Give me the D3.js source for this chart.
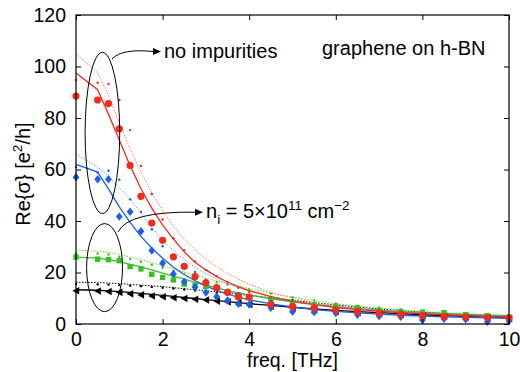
<!DOCTYPE html>
<html>
<head>
<meta charset="UTF-8">
<script src="https://d3js.org/d3.v7.min.js"></script>
<style>
  body { margin: 0; background: #fff; }
  text { font-family: "Liberation Sans", Arial, sans-serif; }
</style>
</head>
<body>
<svg id="chart"></svg>
<script>
// frequency grid (THz) shared by all series
const freq = [0,0.5,0.75,1,1.25,1.5,1.75,2,2.25,2.5,2.75,3,3.25,3.5,3.75,4,4.5,5,5.5,6,6.5,7,7.5,8,8.5,9,9.5,10];

// big markers / small dots / solid fit / dotted fit
const redBig    = [88.5,87,85.6,75.8,61.6,49.6,39.2,32.5,26.1,22.4,18.4,16,14.1,12.3,10.6,10.4,7.6,6.8,6.2,5.4,4.8,4.2,3.7,3.3,2.9,2.7,2.5,2.4];
const redSmall  = [94.8,93.7,93.2,87,75.3,61.4,50.5,40.6,33.3,28.7,24.3,21,18.6,16.2,14.1,12.4,10.5,8.8,7.5,6.5,5.6,4.9,4.3,3.9,3.5,3.2,3,2.8];
const redFit    = [97.5,91,81.5,71.5,61.5,52.5,45,38.5,33,28,24,21,18.4,16.3,14.5,13,10.6,8.8,7.5,6.4,5.6,5,4.4,4,3.6,3.3,3,2.8];
const redFit2   = [105,97.5,89,78,68,59,51,44,38,33,28.8,25.2,22.2,19.7,17.5,15.5,12.3,10,8.3,7,6,5.2,4.6,4.1,3.7,3.3,3,2.8];

const blueBig   = [57,56.2,56.2,41.7,43.6,36,28.5,23.6,19.4,16.4,14.3,12.2,10.6,9.1,7.8,7.6,6.3,4.8,4.6,4.3,3.6,3.1,2.8,1.6,2,1.8,0.9,1.2];
const blueSmall = [61,58.8,59.5,56,48.4,43.5,36.8,30.2,26.4,22.9,20.2,17.1,15,13.3,12,10.8,9,7.6,6.5,5.6,5,4.4,4,3.6,3.3,3,2.8,2.6];
const blueFit   = [62,59,52.5,45.5,39.5,34,29.5,25.5,22,19.2,16.8,14.8,13,11.6,10.4,9.4,7.8,6.6,5.6,4.9,4.3,3.8,3.4,3.1,2.8,2.6,2.4,2.2];
const blueFit2  = [66,61,57.5,53,48.5,43,37.5,32.5,28.5,25,22,19.5,17.4,15.6,14.1,12.8,10.7,9.1,7.8,6.8,6,5.3,4.7,4.3,3.9,3.5,3.2,3];

const greenBig   = [26,25.2,25,24.6,22.3,21.4,19.3,18.1,17.1,15.5,15,14.6,13.9,12.5,11.2,10.6,9.4,8.3,7.5,6.9,6.2,5.2,4.8,4.6,4.4,3.6,3.2,2.7];
const greenSmall = [27.5,27.4,27,26.1,25.2,24.2,23,21.8,20.6,19.4,18.3,17.2,16.2,15.2,14.3,13.4,11.8,10.4,9.1,8,7.1,6.4,5.7,5.1,4.6,4.2,3.8,3.5];
const greenFit   = [26,25.6,25,24.2,23.2,22.2,21,19.8,18.6,17.4,16.2,15.1,14,13,12.1,11.3,9.8,8.6,7.6,6.7,6,5.4,4.8,4.4,4,3.6,3.3,3];
const greenFit2  = [28.7,28.3,27.8,27,26,25,23.8,22.6,21.4,20.2,19,17.8,16.7,15.7,14.7,13.8,12,10.5,9.1,7.9,7,6.2,5.5,4.9,4.4,4,3.7,3.4];

const blackBig   = [12.9,12.8,12.6,12.3,11.7,11.3,10.9,10.6,10.2,9.9,9.6,9.3,8.9,8.6,8.2,7.6,7,6.2,5.6,5,4.4,4,3.6,3.3,3,2.7,2.4,2.2];
const blackSmall = [15.5,15.4,15.3,15.1,14.9,14.7,14.4,14.1,13.8,13.4,13,12.6,12.2,11.8,11.4,11,10.2,9.2,8.2,7.3,6.5,5.8,5.1,4.5,4,3.6,3.2,2.9];
const blackFit   = [13.3,13.1,12.9,12.6,12.3,11.9,11.5,11.1,10.7,10.3,9.9,9.5,9.1,8.7,8.3,7.9,7.2,6.5,5.9,5.3,4.8,4.4,4,3.6,3.3,3,2.8,2.6];
const blackFit2  = [16.2,16.1,15.9,15.7,15.4,15.1,14.8,14.5,14.1,13.7,13.3,12.9,12.5,12.1,11.6,11.1,10.2,9.2,8.3,7.4,6.6,5.8,5.2,4.6,4.1,3.7,3.4,3.2];

const xTicks = [0,2,4,6,8,10];
const yTicks = [0,20,40,60,80,100,120];

const width = 520, height = 372;
const margin = {top: 15, right: 11, bottom: 48, left: 76};

const svg = d3.select("#chart").attr("width", width).attr("height", height);

const x = d3.scaleLinear().domain([0, 10]).range([margin.left, width - margin.right]);
const y = d3.scaleLinear().domain([0, 120]).range([height - margin.bottom, margin.top]);

const groups = [
  {color: "#000000", light: "#000000", big: blackBig, small: blackSmall, fit: blackFit, fit2: blackFit2, shape: "tri"},
  {color: "#35c21e", light: "#62dd2a", big: greenBig, small: greenSmall, fit: greenFit, fit2: greenFit2, shape: "square"},
  {color: "#1a5ef2", light: "#6e98ff", big: blueBig, small: blueSmall, fit: blueFit, fit2: blueFit2, shape: "diamond"},
  {color: "#f52a1c", light: "#ff7a68", big: redBig, small: redSmall, fit: redFit, fit2: redFit2, shape: "circle"}
];

const line = d3.line().x((d, i) => x(freq[i])).y(d => y(d));

const plot = svg.append("g");

groups.forEach(g => {
  plot.append("path").attr("d", line(g.fit2))
      .attr("fill", "none").attr("stroke", g.light)
      .attr("stroke-width", 1).attr("stroke-dasharray", "1.5,1.5");
  plot.append("path").attr("d", line(g.fit))
      .attr("fill", "none").attr("stroke", g.color).attr("stroke-width", 1.3);
});

const shapes = {
  tri: "M-3.6,0L3.2,-3.8L3.2,3.8Z",
  square: "M-2.7,-2.7H2.7V2.7H-2.7Z",
  diamond: "M0,-4.2L3.4,0L0,4.2L-3.4,0Z"
};

groups.forEach(g => {
  plot.selectAll(null).data(g.small).enter().append("circle")
      .attr("cx", (d, i) => x(freq[i])).attr("cy", d => y(d))
      .attr("r", 1.2).attr("fill", g.color);
  if (g.shape === "circle") {
    plot.selectAll(null).data(g.big).enter().append("circle")
        .attr("cx", (d, i) => x(freq[i])).attr("cy", d => y(d))
        .attr("r", 3.6).attr("fill", g.color);
  } else {
    plot.selectAll(null).data(g.big).enter().append("path")
        .attr("d", shapes[g.shape])
        .attr("transform", (d, i) => `translate(${x(freq[i])},${y(d)})`)
        .attr("fill", g.color);
  }
});

// axes box with inward ticks
const axisStyle = sel => {
  sel.select(".domain").remove();
  sel.selectAll("line").attr("stroke", "#000");
  sel.selectAll("text").attr("font-size", 19.5).attr("fill", "#000");
};

svg.append("g").attr("transform", `translate(0,${y(0)})`)
   .call(d3.axisBottom(x).tickValues(xTicks).tickSize(-5).tickPadding(8).tickFormat(d3.format("d")))
   .call(axisStyle);
svg.append("g").attr("transform", `translate(0,${y(120)})`)
   .call(d3.axisTop(x).tickValues(xTicks).tickSize(-5).tickFormat(""))
   .call(axisStyle);
svg.append("g").attr("transform", `translate(${x(0)},0)`)
   .call(d3.axisLeft(y).tickValues(yTicks).tickSize(-5).tickPadding(10))
   .call(axisStyle);
svg.append("g").attr("transform", `translate(${x(10)},0)`)
   .call(d3.axisRight(y).tickValues(yTicks).tickSize(-5).tickFormat(""))
   .call(axisStyle);

svg.append("rect")
   .attr("x", x(0)).attr("y", y(120))
   .attr("width", x(10) - x(0)).attr("height", y(0) - y(120))
   .attr("fill", "none").attr("stroke", "#000").attr("stroke-width", 1.2);

// axis labels
svg.append("text").attr("x", (x(0) + x(10)) / 2).attr("y", 367)
   .attr("text-anchor", "middle").attr("font-size", 19.5).text("freq. [THz]");

const yl = svg.append("text").attr("transform", "translate(30,174) rotate(-90)")
   .attr("text-anchor", "middle").attr("font-size", 20);
yl.append("tspan").text("Re{σ} [e");
yl.append("tspan").attr("dy", -8).attr("font-size", 13.5).text("2");
yl.append("tspan").attr("dy", 8).text("/h]");

// annotations
const ann = svg.append("g").attr("stroke", "#000").attr("fill", "none").attr("stroke-width", 1);
ann.append("ellipse").attr("cx", x(0.61)).attr("cy", y(74.2))
   .attr("rx", x(0.4) - x(0)).attr("ry", y(0) - y(31.3));
ann.append("ellipse").attr("cx", x(0.66)).attr("cy", y(21.9))
   .attr("rx", x(0.415) - x(0)).attr("ry", y(0) - y(17.1));

ann.append("path").attr("d", "M112,59 Q122,48 155,51.7");
ann.append("path").attr("d", "M118,232 Q128,211 197,212.2");
svg.append("path").attr("d", "M161,51.5 L153,48 L153,55 Z").attr("fill", "#000");
svg.append("path").attr("d", "M203,212.2 L195,208.7 L195,215.7 Z").attr("fill", "#000");

svg.append("text").attr("x", 164).attr("y", 58).attr("font-size", 20).text("no impurities");
svg.append("text").attr("x", 322).attr("y", 55).attr("font-size", 20).text("graphene on h-BN");

const ni = svg.append("text").attr("x", 206).attr("y", 218).attr("font-size", 20);
ni.append("tspan").text("n");
ni.append("tspan").attr("dy", 6).attr("font-size", 13.5).text("i");
ni.append("tspan").attr("dy", -6).text(" = 5×10");
ni.append("tspan").attr("dy", -8).attr("font-size", 13.5).text("11");
ni.append("tspan").attr("dy", 8).text(" cm");
ni.append("tspan").attr("dy", -8).attr("font-size", 13.5).text("−2");
</script>
</body>
</html>
